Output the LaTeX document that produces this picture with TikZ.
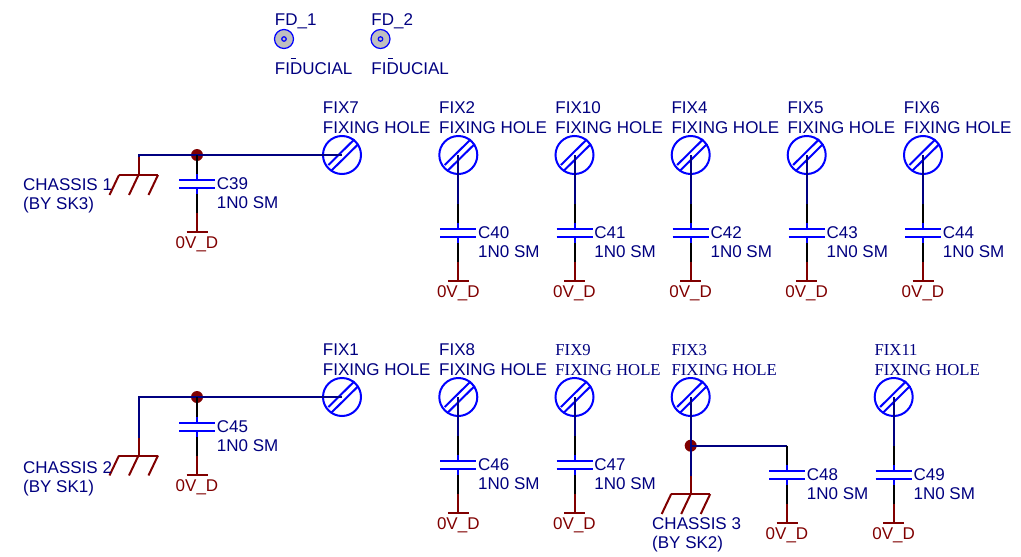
\documentclass[tikz,border=0pt]{standalone}
\usepackage{fontspec}
\setmainfont{Liberation Sans}
\newfontfamily\serifface{Liberation Serif}
\definecolor{wirenavy}{RGB}{0,0,128}
\definecolor{symblue}{RGB}{0,0,255}
\definecolor{pwrred}{RGB}{128,0,0}
\definecolor{labnavy}{RGB}{0,0,128}
\tikzset{
  wire/.style={draw=wirenavy,line width=2pt},
  pinblack/.style={draw=black,line width=2pt},
  pinblue/.style={draw=symblue,line width=2pt},
  pinred/.style={draw=pwrred,line width=2pt},
  plate/.style={draw=symblue,line width=2.2pt},
  holeshape/.style={circle,draw=symblue,line width=2pt,minimum size=38pt,inner sep=0pt},
  holeline/.style={draw=symblue,line width=2pt},
  fidshape/.style={circle,draw=symblue,fill=black!25,line width=1.2pt,minimum size=19pt,inner sep=0pt},
  fideye/.style={circle,draw=symblue,line width=1.2pt,minimum size=4.5pt,inner sep=0pt},
  junction/.style={circle,fill=pwrred,inner sep=0pt,minimum size=12pt},
  txt/.style={anchor=base west,inner sep=0pt,text=labnavy,font=\fontsize{17}{17}\selectfont},
  txtserif/.style={anchor=base west,inner sep=0pt,text=labnavy,font=\fontsize{16.7}{17}\selectfont\serifface},
  pwr/.style={anchor=base,inner sep=0pt,text=pwrred,font=\fontsize{17}{17}\selectfont}
}
% name, x, y, label font style, designator
\newcommand{\fixhole}[5]{%
  \node[holeshape] (#1) at (#2,#3) {};
  \draw[holeline,shift={(#2,#3)}] (-13.6,10) -- (12.4,-15.7);
  \draw[holeline,shift={(#2,#3)}] (-11,16) -- (16.4,-11);
  \node[#4] (#1des) at (#2-19.3,#3-42) {#5};
  \node[#4] (#1val) at (#2-19.3,#3-22) {FIXING HOLE};
}
% name, x, y of upper plate
\newcommand{\capsym}[3]{%
  \coordinate (#1t) at (#2,#3-25);
  \coordinate (#1u) at (#2,#3-6);
  \coordinate (#1p) at (#2,#3);
  \coordinate (#1q) at (#2,#3+8);
  \coordinate (#1v) at (#2,#3+14);
  \coordinate (#1w) at (#2,#3+33);
  \coordinate (#1g) at (#2,#3+52);
  \coordinate (#1gl) at (#2-10.5,#3+52);
  \coordinate (#1gr) at (#2+10.5,#3+52);
  \coordinate (#1pl) at (#2-18,#3);
  \coordinate (#1pr) at (#2+18,#3);
  \coordinate (#1ql) at (#2-18,#3+8);
  \coordinate (#1qr) at (#2+18,#3+8);
  \draw[pinblue] (#1u) -- (#1p);
  \draw[pinblue] (#1q) -- (#1v);
  \draw[pinblack] (#1v) -- (#1w);
  \draw[pinred] (#1w) -- (#1g);
  \draw[pinred] (#1gl) -- (#1gr);
  \draw[plate] (#1pl) -- (#1pr);
  \draw[plate] (#1ql) -- (#1qr);
  \node[txt] (#1des) at (#2+19.7,#3+9) {#1};
  \node[txt] (#1val) at (#2+19.7,#3+28) {1N0 SM};
  \node[pwr] (#1pwr) at (#2,#3+68) {0V\_D};
}
% name, x, y of comb
\newcommand{\chassissym}[3]{%
  \coordinate (#1t) at (#2,#3-18);
  \coordinate (#1m) at (#2,#3);
  \coordinate (#1l) at (#2-19.5,#3);
  \coordinate (#1r) at (#2+19.5,#3);
  \coordinate (#1la) at (#2-29,#3+20);
  \coordinate (#1ma) at (#2-9.5,#3+20);
  \coordinate (#1ra) at (#2+10,#3+20);
  \draw[pinred] (#1t) -- (#1m);
  \draw[pinred] (#1l) -- (#1r);
  \draw[pinred] (#1l) -- (#1la);
  \draw[pinred] (#1m) -- (#1ma);
  \draw[pinred] (#1r) -- (#1ra);
}
% fiducial: name, x, designator, bar x
\newcommand{\fidsym}[4]{%
  \node[fidshape] (#1) at (#2,39) {};
  \node[fideye] (#1e) at (#2,39) {};
  \node[txt] (#1des) at (#2-9.3,25) {#3};
  \node[txt] (#1val) at (#2-9.3,74) {FIDUCIAL};
  \coordinate (#1ba) at (#4-2.5,58);
  \coordinate (#1bb) at (#4+2.5,58);
  \draw[draw=labnavy,line width=1pt] (#1ba) -- (#1bb);
}
\newcommand{\plainlink}[2]{%
  \draw[wire] (#1.center) -- (#2t);
  \draw[pinblack] (#2t) -- (#2u);
}
\begin{document}
\begin{tikzpicture}[x=1pt,y=-1pt]
\useasboundingbox (0,0) rectangle (1021,557);

% fiducials
\fidsym{FDa}{284}{FD\_1}{293}
\fidsym{FDb}{380.5}{FD\_2}{390.7}

% row 1
\fixhole{FIXg}{342}{155}{txt}{FIX7}
\fixhole{FIXb}{458.3}{155}{txt}{FIX2}
\fixhole{FIXj}{574.5}{155}{txt}{FIX10}
\fixhole{FIXd}{690.7}{155}{txt}{FIX4}
\fixhole{FIXe}{806.7}{155}{txt}{FIX5}
\fixhole{FIXf}{923}{155}{txt}{FIX6}

\capsym{C39}{197}{180}
\capsym{C40}{458.3}{229}
\capsym{C41}{574.5}{229}
\capsym{C42}{690.7}{229}
\capsym{C43}{806.7}{229}
\capsym{C44}{923}{229}

\chassissym{SKc}{138.5}{175}
\node[txt] (SKcname) at (23,190) {CHASSIS 1};
\node[txt] (SKcby) at (23,209) {(BY SK3)};

\node[junction] (Ja) at (197,155) {};
\draw[wire] (SKct) -- (138.5,155) -- (Ja.center);
\draw[wire] (Ja.center) -- (FIXg.center);
\draw[pinblack] (Ja.center) -- (C39u);

\plainlink{FIXb}{C40}
\plainlink{FIXj}{C41}
\plainlink{FIXd}{C42}
\plainlink{FIXe}{C43}
\plainlink{FIXf}{C44}

% row 2
\fixhole{FIXa}{342}{397}{txt}{FIX1}
\fixhole{FIXh}{458.3}{397}{txt}{FIX8}
\fixhole{FIXi}{574.5}{397}{txtserif}{FIX9}
\fixhole{FIXc}{690.7}{397}{txtserif}{FIX3}
\fixhole{FIXk}{893.7}{397}{txtserif}{FIX11}

\capsym{C45}{197}{423}
\capsym{C46}{458.3}{461}
\capsym{C47}{574.5}{461}
\capsym{C48}{787}{471}
\capsym{C49}{893.7}{471}

\chassissym{SKa}{138.5}{455.5}
\node[txt] (SKaname) at (23,473) {CHASSIS 2};
\node[txt] (SKaby) at (23,492) {(BY SK1)};

\node[junction] (Jb) at (197,397) {};
\draw[wire] (SKat) -- (138.5,397) -- (Jb.center);
\draw[wire] (Jb.center) -- (FIXa.center);
\draw[pinblack] (Jb.center) -- (C45u);

\plainlink{FIXh}{C46}
\plainlink{FIXi}{C47}
\plainlink{FIXk}{C49}

\chassissym{SKb}{690.7}{494}
\node[txt] (SKbname) at (652,529) {CHASSIS 3};
\node[txt] (SKbby) at (652,548) {(BY SK2)};

\node[junction] (Jc) at (690.7,445.7) {};
\draw[wire] (FIXc.center) -- (Jc.center);
\draw[wire] (Jc.center) -- (SKbt);
\draw[wire] (Jc.center) -- (787,445.7);
\draw[pinblack] (787,445.7) -- (C48u);
\end{tikzpicture}
\end{document}
